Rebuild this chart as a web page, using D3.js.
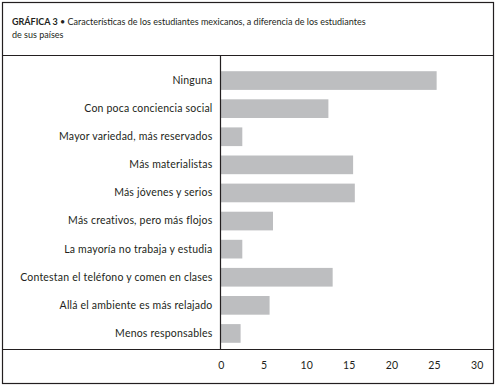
<!DOCTYPE html>
<html>
<head>
<meta charset="utf-8">
<script src="https://d3js.org/d3.v7.min.js"></script>
<style>
  body { margin: 0; background: #fff; }
  text { font-family: Lato, "Noto Sans", sans-serif; fill: #231f20; }
  .axis text { font-size: 10.5px; letter-spacing: 0.2px; }
  .axis path, .axis line { display: none; }
</style>
</head>
<body>
<svg id="chart" width="496" height="386"></svg>
<script>
  // data
  const categories = [
    "Ninguna",
    "Con poca conciencia social",
    "Mayor variedad, más reservados",
    "Más materialistas",
    "Más jóvenes y serios",
    "Más creativos, pero más flojos",
    "La mayoría no trabaja y estudia",
    "Contestan el teléfono y comen en clases",
    "Allá el ambiente es más relajado",
    "Menos responsables"
  ];
  const values = [25.3, 12.6, 2.5, 15.5, 15.7, 6.1, 2.5, 13.1, 5.7, 2.3];
  const xTicks = [0, 5, 10, 15, 20, 25, 30];

  const svg = d3.select("#chart");

  // outer frame
  svg.append("rect")
    .attr("x", 2.5).attr("y", 2.5)
    .attr("width", 491).attr("height", 381)
    .attr("fill", "none").attr("stroke", "#231f20").attr("stroke-width", 1.2);

  // title
  const title = svg.append("text").attr("x", 12).attr("y", 25).style("font-size", "9px");
  title.append("tspan").style("font-weight", "bold").text("GRÁFICA 3");
  title.append("tspan").text(" • Características de los estudiantes mexicanos, a diferencia de los estudiantes");
  svg.append("text").attr("x", 12).attr("y", 38).style("font-size", "9px").text("de sus países");

  const plotTop = 55, plotBottom = 349, x0 = 220.5;

  // frame lines of chart area
  svg.append("line").attr("x1", 2).attr("x2", 494).attr("y1", plotTop + 0.5).attr("y2", plotTop + 0.5)
    .attr("stroke", "#231f20").attr("stroke-width", 1.2);
  svg.append("line").attr("x1", 2).attr("x2", 494).attr("y1", plotBottom + 0.5).attr("y2", plotBottom + 0.5)
    .attr("stroke", "#231f20").attr("stroke-width", 1.2);

  const x = d3.scaleLinear().domain([0, 30]).range([221, 476.7]);
  const y = d3.scaleBand().domain(categories).range([66.5, 347.5])
    .paddingInner(0.335).paddingOuter(0.1675);

  svg.append("g").selectAll("rect")
    .data(categories)
    .join("rect")
    .attr("x", x(0))
    .attr("y", d => y(d))
    .attr("width", (d, i) => x(values[i]) - x(0))
    .attr("height", y.bandwidth())
    .attr("fill", "#bdbec0");

  svg.append("line").attr("x1", x0).attr("x2", x0).attr("y1", plotTop).attr("y2", plotBottom)
    .attr("stroke", "#231f20").attr("stroke-width", 1.2);

  svg.append("g").attr("class", "axis")
    .attr("transform", "translate(" + x0 + ",0)")
    .call(d3.axisLeft(y).tickSize(0).tickPadding(8));

  svg.append("g").attr("class", "axis")
    .attr("transform", "translate(0,358)")
    .call(d3.axisBottom(x).tickValues(xTicks).tickSize(0).tickPadding(4));
</script>
</body>
</html>
